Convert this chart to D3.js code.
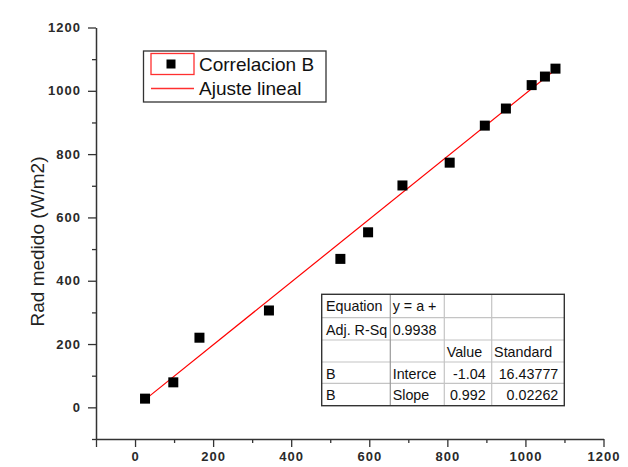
<!DOCTYPE html>
<html><head><meta charset="utf-8">
<script src="https://cdn.jsdelivr.net/npm/d3@7"></script>
<style>
body{margin:0;background:#fff;}
svg{display:block;font-family:Arial,"Liberation Sans",sans-serif;}
</style></head>
<body><svg id="c" width="628" height="467"></svg>
<script>
// ---- data ----
const xValues = [25.6, 98, 165, 343, 526, 597, 685, 806, 896, 950, 1016, 1050, 1077];
const yValues = [27.5, 79, 220, 306, 469, 553, 701, 773, 890, 944, 1018, 1045, 1070];
const fitIntercept = -1.04;
const fitSlope = 0.992;
const xMajorTicks = [-100, 0, 200, 400, 600, 800, 1000, 1200];
const xLabelTicks = [0, 200, 400, 600, 800, 1000, 1200];
const yLabelTicks = [0, 200, 400, 600, 800, 1000, 1200];
const minorTicks = [-100, 100, 300, 500, 700, 900, 1100];
const legendLabels = ["Correlacion B", "Ajuste lineal"];
const yTitle = "Rad medido (W/m2)";
const tableRows = [
  ["Equation", "y = a +", "", ""],
  ["Adj. R-Sq", "0.9938", "", ""],
  ["", "", "Value", "Standard"],
  ["B", "Interce", "-1.04", "16.43777"],
  ["B", "Slope", "0.992", "0.02262"]
];

const svg = d3.select("#c");
const x = d3.scaleLinear().domain([-100, 1200]).range([96, 603.5]);
const y = d3.scaleLinear().domain([-100, 1200]).range([439, 27.5]);
const axisColor = "#333";

// minor ticks
svg.append("g").attr("transform", "translate(96,0)")
  .call(d3.axisLeft(y).tickValues(minorTicks).tickSize(4).tickSizeOuter(0).tickFormat(""))
  .call(g => g.select(".domain").remove())
  .call(g => g.selectAll("line").attr("stroke", axisColor).attr("stroke-width", 1.3));
svg.append("g").attr("transform", "translate(0,439)")
  .call(d3.axisBottom(x).tickValues(minorTicks.slice(1)).tickSize(4).tickSizeOuter(0).tickFormat(""))
  .call(g => g.select(".domain").remove())
  .call(g => g.selectAll("line").attr("stroke", axisColor).attr("stroke-width", 1.3));

// y axis
const gy = svg.append("g").attr("transform", "translate(96,0)")
  .call(d3.axisLeft(y).tickValues(yLabelTicks).tickSize(8).tickSizeOuter(0).tickPadding(7).tickFormat(d3.format("d")));
gy.select(".domain").attr("stroke", axisColor).attr("stroke-width", 1.5);
gy.selectAll("line").attr("stroke", axisColor).attr("stroke-width", 1.3);
gy.selectAll("text").attr("font-size", 13).attr("font-weight", "bold").attr("fill", "#2a2a2a")
  .attr("letter-spacing", 1).attr("font-family", "Arial, 'Liberation Sans', sans-serif");

// x axis
const gx = svg.append("g").attr("transform", "translate(0,439)")
  .call(d3.axisBottom(x).tickValues(xMajorTicks).tickSize(8).tickSizeOuter(0).tickPadding(5)
    .tickFormat(d => xLabelTicks.includes(d) ? d3.format("d")(d) : ""));
gx.select(".domain").attr("stroke", axisColor).attr("stroke-width", 1.5);
gx.selectAll("line").attr("stroke", axisColor).attr("stroke-width", 1.3);
gx.selectAll("text").attr("font-size", 13).attr("font-weight", "bold").attr("fill", "#2a2a2a")
  .attr("letter-spacing", 1).attr("font-family", "Arial, 'Liberation Sans', sans-serif");

// y title
svg.append("text").attr("transform", "translate(44,241.5) rotate(-90)")
  .attr("text-anchor", "middle").attr("font-size", 19).attr("fill", "#222").text(yTitle);

// fit line
const xmin = d3.min(xValues), xmax = d3.max(xValues);
svg.append("line")
  .attr("x1", x(xmin)).attr("y1", y(fitIntercept + fitSlope * xmin))
  .attr("x2", x(xmax)).attr("y2", y(fitIntercept + fitSlope * xmax))
  .attr("stroke", "#ff0000").attr("stroke-width", 1.2);

// points
svg.append("g").selectAll("rect").data(xValues).join("rect")
  .attr("x", (d, i) => x(d) - 5).attr("y", (d, i) => y(yValues[i]) - 5)
  .attr("width", 10).attr("height", 10).attr("fill", "#000");

// legend
const lg = svg.append("g");
lg.append("rect").attr("x", 143.5).attr("y", 51).attr("width", 182.5).attr("height", 51)
  .attr("fill", "#fff").attr("stroke", "#333").attr("stroke-width", 1.3);
lg.append("rect").attr("x", 151).attr("y", 53.5).attr("width", 43).attr("height", 21)
  .attr("fill", "none").attr("stroke", "#ff3030").attr("stroke-width", 1.3);
lg.append("rect").attr("x", 166.5).attr("y", 59.5).attr("width", 9).attr("height", 9).attr("fill", "#000");
lg.append("line").attr("x1", 151).attr("x2", 194).attr("y1", 88.5).attr("y2", 88.5)
  .attr("stroke", "#ff3030").attr("stroke-width", 1.3);
lg.selectAll("text.l").data(legendLabels).join("text").attr("class", "l")
  .attr("x", 199).attr("y", (d, i) => 70.7 + i * 24.6)
  .attr("font-size", 19).attr("fill", "#111").text(d => d);

// stats table
const colX = [321.7, 390.3, 444.3, 491.7, 564.3];
const rowY = [294.3, 317.7, 340, 362, 383.3, 405.7];
const tg = svg.append("g");
tg.append("rect").attr("x", colX[0]).attr("y", rowY[0]).attr("width", colX[4] - colX[0]).attr("height", rowY[5] - rowY[0])
  .attr("fill", "#fff");
rowY.slice(1, 5).forEach(yy => tg.append("line").attr("x1", colX[0]).attr("x2", colX[4]).attr("y1", yy).attr("y2", yy)
  .attr("stroke", "#c4c4c4").attr("stroke-width", 1.2));
colX.slice(1, 4).forEach((xx, i) => tg.append("line").attr("x1", xx).attr("x2", xx).attr("y1", rowY[0]).attr("y2", rowY[5])
  .attr("stroke", i === 0 ? "#9a9a9a" : "#c4c4c4").attr("stroke-width", 1.2));
tg.append("rect").attr("x", colX[0]).attr("y", rowY[0]).attr("width", colX[4] - colX[0]).attr("height", rowY[5] - rowY[0])
  .attr("fill", "none").attr("stroke", "#333").attr("stroke-width", 1.4);
tableRows.forEach((row, r) => {
  row.forEach((cell, c) => {
    if (!cell) return;
    const numeric = r >= 3 && c >= 2;
    tg.append("text")
      .attr("x", numeric ? colX[c + 1] - 6 : colX[c] + (c === 0 ? 4.3 : 2.4))
      .attr("y", rowY[r] + 17)
      .attr("text-anchor", numeric ? "end" : "start")
      .attr("font-size", 14.3).attr("fill", "#111").text(cell);
  });
});
</script></body></html>
